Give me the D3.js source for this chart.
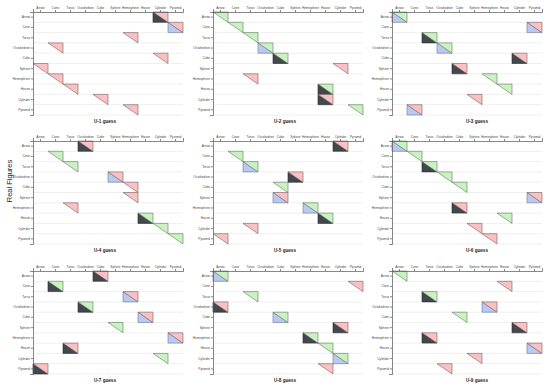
<!DOCTYPE html>
<html>
<head>
<meta charset="utf-8">
<script src="https://cdn.jsdelivr.net/npm/d3@7"></script>
<style>
  body { margin: 0; background: #fff; }
  text { font-family: "Liberation Sans", Arial, sans-serif; }
</style>
</head>
<body>
<svg id="chart" width="550" height="388"></svg>
<script>
var figures = ["Arrow", "Cone", "Torus", "Octahedron", "Cube", "Sphere", "Hemisphere", "House", "Cylinder", "Pyramid"];
var users = ["U-1", "U-2", "U-3", "U-4", "U-5", "U-6", "U-7", "U-8", "U-9"];

// what each user guessed for every real figure (same order as figures)
var guessU1 = ["Cylinder", "Pyramid", "Hemisphere", "Cone", "Cylinder", "Arrow", "Cone", "Torus", "Cube", "Hemisphere"];
var guessU2 = ["Arrow", "Cone", "Torus", "Octahedron", "Cube", "Cylinder", "Torus", "House", "House", "Pyramid"];
var guessU3 = ["Arrow", "Pyramid", "Torus", "Octahedron", "Cylinder", "Cube", "Hemisphere", "House", "Sphere", "Cone"];
var guessU4 = ["Octahedron", "Cone", "Torus", "Sphere", "Hemisphere", "Hemisphere", "Torus", "House", "Cylinder", "Pyramid"];
var guessU5 = ["Cylinder", "Cone", "Torus", "Sphere", "Cube", "Cube", "Hemisphere", "House", "Torus", "Arrow"];
var guessU6 = ["Arrow", "Cone", "Torus", "Octahedron", "Cube", "Pyramid", "Cube", "House", "Sphere", "Hemisphere"];
var guessU7 = ["Cube", "Cone", "Hemisphere", "Octahedron", "House", "Sphere", "Pyramid", "Torus", "Cylinder", "Arrow"];
var guessU8 = ["Arrow", "Pyramid", "Torus", "Arrow", "Cube", "Cylinder", "Hemisphere", "House", "Cylinder", "House"];
var guessU9 = ["Arrow", "House", "Torus", "Hemisphere", "Cube", "Cylinder", "Torus", "Pyramid", "Sphere", "Octahedron"];

// lower-left half of the cell: "b" blue, "d" dark, "" none
var markU1 = ["d", "b", "", "", "", "", "", "", "", ""];
var markU2 = ["", "", "", "b", "d", "", "", "d", "d", ""];
var markU3 = ["b", "b", "d", "b", "d", "d", "", "", "", "b"];
var markU4 = ["d", "", "", "b", "", "", "", "d", "", ""];
var markU5 = ["d", "", "b", "d", "", "b", "b", "d", "", ""];
var markU6 = ["b", "", "d", "", "", "b", "d", "", "", ""];
var markU7 = ["d", "d", "b", "d", "b", "", "b", "d", "", "d"];
var markU8 = ["b", "", "", "d", "b", "d", "d", "", "b", ""];
var markU9 = ["", "", "d", "b", "", "d", "d", "b", "", ""];

var guesses = [guessU1, guessU2, guessU3, guessU4, guessU5, guessU6, guessU7, guessU8, guessU9];
var marks = [markU1, markU2, markU3, markU4, markU5, markU6, markU7, markU8, markU9];

var colors = {right: "#c9f2c1", wrong: "#f9c1c1", b: "#b9c9f2", d: "#43474e"};

var svg = d3.select("#chart");

var panelX = [33, 213, 392];
var panelY = [12, 141, 271];
var titleX = [105, 285, 477];
var pw = 150, ph = 103;

var x = d3.scaleBand().domain(figures).range([0, pw]);
var y = d3.scaleBand().domain(figures).range([0, ph]);

svg.append("text")
   .attr("transform", "translate(12,181) rotate(-90)")
   .attr("text-anchor", "middle")
   .attr("font-size", "7.5px")
   .attr("fill", "#222")
   .text("Real Figures");

users.forEach(function(u, k) {
  var col = k % 3, row = Math.floor(k / 3);
  var g = svg.append("g")
             .attr("transform", "translate(" + panelX[col] + "," + panelY[row] + ")");

  // light row lines
  g.selectAll(".grid")
   .data(figures)
   .enter().append("line")
   .attr("x1", 0)
   .attr("x2", pw)
   .attr("y1", function(d) { return y(d) + y.bandwidth(); })
   .attr("y2", function(d) { return y(d) + y.bandwidth(); })
   .attr("stroke", "#e4e4e4")
   .attr("stroke-width", 0.6);

  var cells = figures.map(function(f, i) {
    return {real: f, guess: guesses[k][i], mark: marks[k][i]};
  });

  var bw = x.bandwidth(), bh = y.bandwidth();

  // lower-left triangles
  g.selectAll(".low")
   .data(cells.filter(function(c) { return c.mark !== ""; }))
   .enter().append("path")
   .attr("d", function(c) {
     var x0 = x(c.guess), y0 = y(c.real);
     return "M" + x0 + "," + y0 + "L" + x0 + "," + (y0 + bh) + "L" + (x0 + bw) + "," + (y0 + bh) + "Z";
   })
   .attr("fill", function(c) { return colors[c.mark]; })
   .attr("stroke", function(c) { return d3.color(colors[c.mark]).darker(1.5); })
   .attr("stroke-width", 0.6);

  // upper-right triangles
  g.selectAll(".up")
   .data(cells)
   .enter().append("path")
   .attr("d", function(c) {
     var x0 = x(c.guess), y0 = y(c.real);
     return "M" + x0 + "," + y0 + "L" + (x0 + bw) + "," + y0 + "L" + (x0 + bw) + "," + (y0 + bh) + "Z";
   })
   .attr("fill", function(c) { return c.guess === c.real ? colors.right : colors.wrong; })
   .attr("stroke", function(c) { return d3.color(c.guess === c.real ? colors.right : colors.wrong).darker(2); })
   .attr("stroke-width", 0.6);

  var xa = g.append("g")
            .call(d3.axisTop(x).tickSize(2).tickSizeOuter(3).tickPadding(1));
  var ya = g.append("g")
            .call(d3.axisLeft(y).tickSize(2).tickSizeOuter(3).tickPadding(1));

  [xa, ya].forEach(function(a) {
    a.selectAll("text").attr("font-size", "3.2px").attr("fill", "#444")
     .style("font-family", "Liberation Sans, Arial, sans-serif");
    a.selectAll("path, line").attr("stroke", "#555").attr("stroke-width", 0.7);
  });

  svg.append("text")
     .attr("x", titleX[col])
     .attr("y", panelY[row] + ph + 7.5)
     .attr("text-anchor", "middle")
     .attr("font-size", "4.6px")
     .attr("font-weight", "bold")
     .attr("fill", "#222")
     .text(u + " guess");
});
</script>
</body>
</html>
